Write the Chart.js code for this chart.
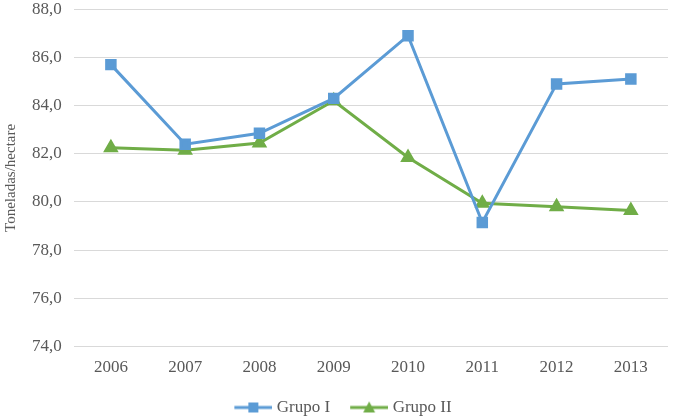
<!DOCTYPE html>
<html>
<head>
<meta charset="utf-8">
<script src="https://cdn.jsdelivr.net/npm/chart.js@4/dist/chart.umd.min.js"></script>
<style>
  html, body { margin: 0; padding: 0; background: #fff; overflow: hidden; }
  body { width: 677px; height: 417px; position: relative; }
  #wrap { position: absolute; left: 0; top: -13px; width: 677px; height: 439px; }
</style>
</head>
<body>
<div id="wrap"><canvas id="grafica"></canvas></div>
<script>
var anys = ["2006", "2007", "2008", "2009", "2010", "2011", "2012", "2013"];
var grupoI = [85.7, 82.4, 82.85, 84.3, 86.9, 79.15, 84.9, 85.1];
var grupoII = [82.25, 82.15, 82.45, 84.2, 81.85, 79.95, 79.8, 79.65];
var nomsSeries = ["Grupo I", "Grupo II"];

var blau = "#5B9BD5";
var verd = "#70AD47";
var font = "'Liberation Serif', 'Times New Roman', serif";

// icona de la llegenda: linia amb el marcador al mig
// (la part esquerra queda buida per separar els elements)
function iconaLlegenda(color, forma) {
    var c = document.createElement("canvas");
    c.width = 52;
    c.height = 14;
    var g = c.getContext("2d");
    g.strokeStyle = color;
    g.fillStyle = color;
    g.lineWidth = 3;
    g.beginPath();
    g.moveTo(14, 7);
    g.lineTo(52, 7);
    g.stroke();
    g.beginPath();
    if (forma == "rect") {
        g.rect(28, 2, 10, 10);
    } else {
        g.moveTo(33, 1);
        g.lineTo(39, 12);
        g.lineTo(27, 12);
        g.closePath();
    }
    g.fill();
    return c;
}

var ctx = document.getElementById("grafica");
var grafica = new Chart(ctx, {
    type: "line",
    data: {
        labels: anys,
        datasets: [{
            label: nomsSeries[0],
            data: grupoI,
            borderColor: blau,
            backgroundColor: blau,
            borderWidth: 3,
            pointStyle: "rect",
            pointRadius: 6,
            pointHoverRadius: 6,
            tension: 0
        }, {
            label: nomsSeries[1],
            data: grupoII,
            borderColor: verd,
            backgroundColor: verd,
            borderWidth: 3,
            pointStyle: "triangle",
            pointRadius: 6,
            pointHoverRadius: 6,
            tension: 0
        }]
    },
    options: {
        responsive: true,
        maintainAspectRatio: false,
        animation: false,
        layout: { padding: { top: 0, right: 3, left: 2, bottom: 0 } },
        plugins: {
            tooltip: { enabled: false },
            legend: {
                position: "bottom",
                labels: {
                    color: "#595959",
                    font: { family: font, size: 17 },
                    usePointStyle: true,
                    pointStyleWidth: 44,
                    boxHeight: 14,
                    padding: 10,
                    generateLabels: function (chart) {
                        return chart.data.datasets.map(function (ds, i) {
                            return {
                                text: ds.label,
                                pointStyle: iconaLlegenda(ds.borderColor, ds.pointStyle),
                                fillStyle: ds.borderColor,
                                strokeStyle: ds.borderColor,
                                lineWidth: 0,
                                fontColor: "#595959",
                                datasetIndex: i
                            };
                        });
                    }
                }
            }
        },
        scales: {
            x: {
                offset: true,
                grid: { display: false, drawTicks: false },
                border: { display: false },
                ticks: {
                    color: "#595959",
                    font: { family: font, size: 17 },
                    padding: 11
                }
            },
            y: {
                min: 74,
                max: 88,
                grid: { color: "#d9d9d9", lineWidth: 1, drawTicks: false },
                border: { display: false },
                ticks: {
                    stepSize: 2,
                    color: "#595959",
                    font: { family: font, size: 17 },
                    padding: 12,
                    callback: function (v) {
                        return v.toFixed(1).replace(".", ",");
                    }
                },
                title: {
                    display: true,
                    text: "Toneladas/hectare",
                    color: "#595959",
                    font: { family: font, size: 15 },
                    padding: { top: 0, bottom: 0 }
                }
            }
        }
    }
});
</script>
</body>
</html>
